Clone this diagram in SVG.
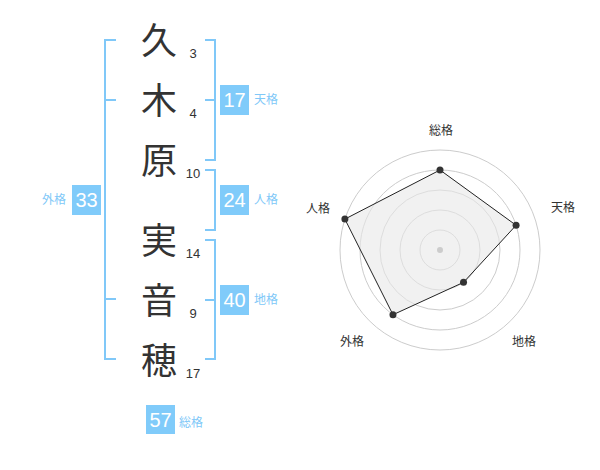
<svg xmlns="http://www.w3.org/2000/svg" width="600" height="470" viewBox="0 0 600 470">
<style>
.ch{font-family:"Noto Sans CJK JP","Noto Sans CJK SC",sans-serif;font-size:36px;fill:#333;text-anchor:middle}
.sc{font-family:"Liberation Sans",Arial,sans-serif;font-size:13px;fill:#333;text-anchor:middle}
.br{fill:none;stroke:#80c8f8;stroke-width:2}
.bx{fill:#80cbfa}
.bn{font-family:"Liberation Sans",Arial,sans-serif;font-size:20px;fill:#fff;text-anchor:middle}
.lb{font-family:"Noto Sans CJK JP",sans-serif;font-size:12px;fill:#80c8f8}
.ring{fill:none;stroke:#ccc;stroke-width:1}
.rl{font-family:"Noto Sans CJK JP",sans-serif;font-size:12px;fill:#333;text-anchor:middle}
</style>
<rect width="600" height="470" fill="#fff"/>
<g id="names">
<text class="ch" x="159" y="54">久</text>
<text class="ch" x="159" y="114">木</text>
<text class="ch" x="159" y="174">原</text>
<text class="ch" x="159" y="254">実</text>
<text class="ch" x="159" y="314">音</text>
<text class="ch" x="159" y="374">穂</text>
<text class="sc" x="193" y="58">3</text>
<text class="sc" x="193" y="118">4</text>
<text class="sc" x="193" y="178">10</text>
<text class="sc" x="193" y="258">14</text>
<text class="sc" x="193" y="318">9</text>
<text class="sc" x="193" y="378">17</text>
</g>
<g id="connectors">
<path class="br" d="M116,40H105V359H116M105,100H116M105,299H116"/>
<path class="br" d="M205,40H215V160H205M205,100H215"/>
<path class="br" d="M205,170H215V230H205"/>
<path class="br" d="M205,240H215V359H205M205,300H215"/>
</g>
<g id="tenkaku">
<rect class="bx" x="220" y="85" width="29" height="30"/>
<text class="bn" x="234.5" y="107">17</text>
<text class="lb" x="254" y="104">天格</text>
</g>
<g id="jinkaku">
<rect class="bx" x="220" y="185" width="29" height="30"/>
<text class="bn" x="234.5" y="207">24</text>
<text class="lb" x="254" y="204">人格</text>
</g>
<g id="chikaku">
<rect class="bx" x="220" y="285" width="29" height="30"/>
<text class="bn" x="234.5" y="307">40</text>
<text class="lb" x="254" y="304">地格</text>
</g>
<g id="gaikaku">
<rect class="bx" x="72" y="185" width="29" height="30"/>
<text class="bn" x="86.5" y="207">33</text>
<text class="lb" x="66" y="204" text-anchor="end">外格</text>
</g>
<g id="soukaku">
<rect class="bx" x="146" y="405" width="29" height="29"/>
<text class="bn" x="160.5" y="426.5">57</text>
<text class="lb" x="179" y="427">総格</text>
</g>
<g id="radar">
<circle class="ring" cx="440" cy="250" r="20"/>
<circle class="ring" cx="440" cy="250" r="40"/>
<circle class="ring" cx="440" cy="250" r="60"/>
<circle class="ring" cx="440" cy="250" r="80"/>
<circle class="ring" cx="440" cy="250" r="100"/>
<polygon points="440,170 516.08,225.28 463.51,282.36 392.98,314.72 344.89,219.1" fill="#e8e8e8" fill-opacity="0.6" stroke="#222" stroke-width="1"/>
<circle cx="440" cy="250" r="3" fill="#ccc"/>
<g fill="#333">
<circle cx="440" cy="170" r="3.5"/>
<circle cx="516.08" cy="225.28" r="3.5"/>
<circle cx="463.51" cy="282.36" r="3.5"/>
<circle cx="392.98" cy="314.72" r="3.5"/>
<circle cx="344.89" cy="219.1" r="3.5"/>
</g>
<text class="rl" x="441" y="135">総格</text>
<text class="rl" x="563" y="212">天格</text>
<text class="rl" x="524" y="346">地格</text>
<text class="rl" x="352" y="346">外格</text>
<text class="rl" x="318" y="213">人格</text>
</g>
</svg>
